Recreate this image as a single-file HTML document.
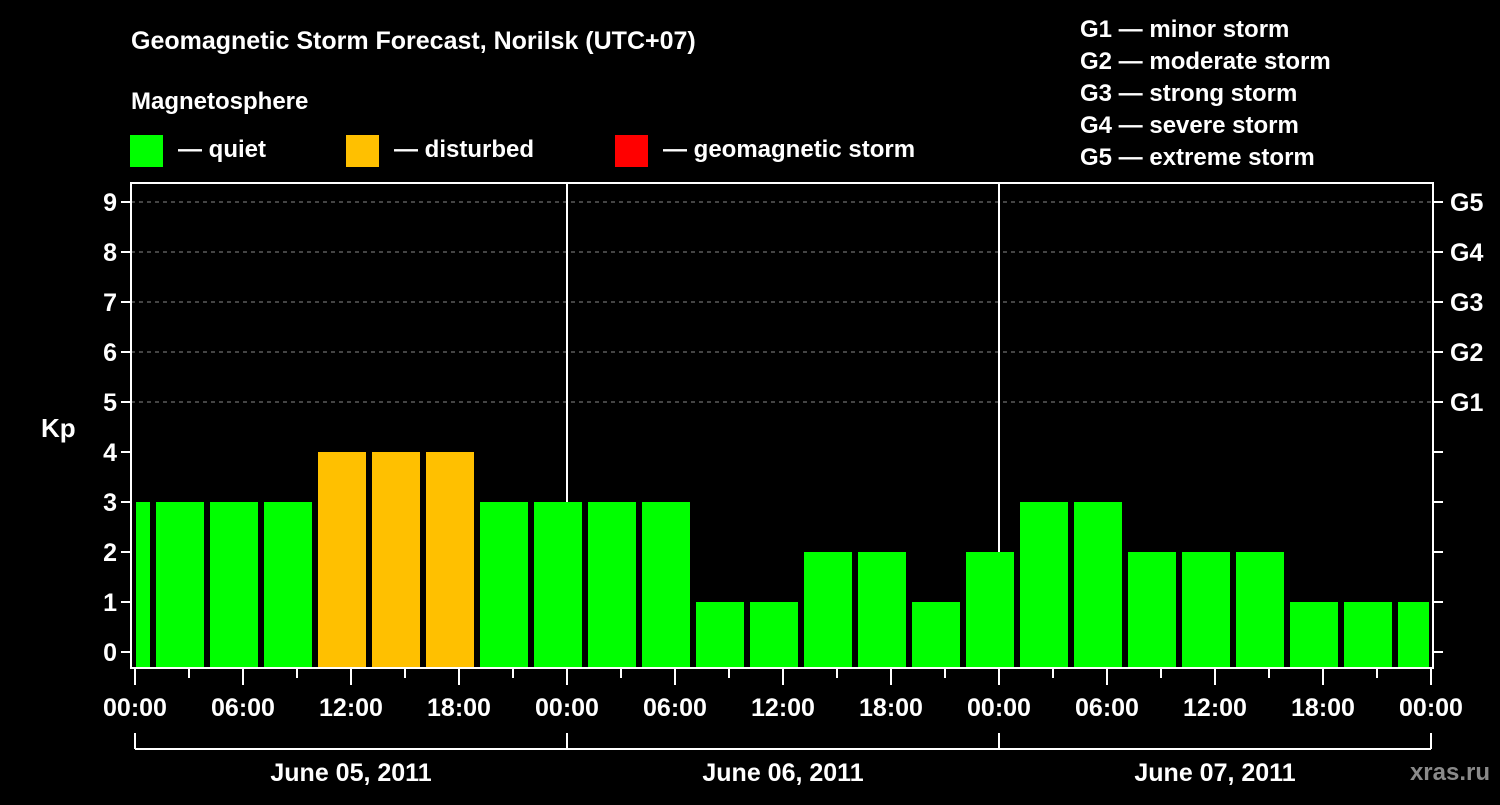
<!DOCTYPE html>
<html><head><meta charset="utf-8"><style>
html,body{margin:0;padding:0;background:#000;}
svg text{font-family:"Liberation Sans",sans-serif;font-weight:bold;fill:#fff;}
</style></head><body>
<svg width="1500" height="800" viewBox="0 0 1500 800">
<rect x="0" y="0" width="1500" height="800" fill="#000"/>
<text x="131" y="49" font-size="25">Geomagnetic Storm Forecast, Norilsk (UTC+07)</text>
<text x="131" y="109" font-size="24">Magnetosphere</text>
<g>
<rect x="130" y="135" width="33" height="32" fill="#00ff00"/>
<text x="178" y="157" font-size="24">— quiet</text>
<rect x="346" y="135" width="33" height="32" fill="#ffc000"/>
<text x="394" y="157" font-size="24">— disturbed</text>
<rect x="615" y="135" width="33" height="32" fill="#ff0000"/>
<text x="663" y="157" font-size="24">— geomagnetic storm</text>
</g>
<g font-size="24">
<text x="1080" y="37">G1 — minor storm</text>
<text x="1080" y="69">G2 — moderate storm</text>
<text x="1080" y="101">G3 — strong storm</text>
<text x="1080" y="133">G4 — severe storm</text>
<text x="1080" y="165">G5 — extreme storm</text>
</g>
<text x="41" y="437" font-size="26">Kp</text>
<text x="1490" y="780" font-size="24" text-anchor="end" fill="#888" style="fill:#8a8a8a">xras.ru</text>
<g id="grid"></g>
<g id="bars"></g>
<g id="axes"></g>
</svg>
<script>
const kpValues=[3,3,3,3,4,4,4,3,3,3,3,1,1,2,2,1,2,3,3,2,2,2,1,1,1];
const startHours=[-2,1,4,7,10,13,16,19,22,25,28,31,34,37,40,43,46,49,52,55,58,61,64,67,70];
const yTicks=[0,1,2,3,4,5,6,7,8,9];
const gLabels=["G1","G2","G3","G4","G5"];
const gLevels=[5,6,7,8,9];
const timeLabels=["00:00","06:00","12:00","18:00","00:00","06:00","12:00","18:00","00:00","06:00","12:00","18:00","00:00"];
const dayLabels=["June 05, 2011","June 06, 2011","June 07, 2011"];

const NS="http://www.w3.org/2000/svg";
const L=131,R=1433,T=183,B=668,X0=135,PXH=18;
const xs=h=>X0+h*PXH;
const ys=v=>652-v*50;
function mk(tag,attrs,parent){const e=document.createElementNS(NS,tag);for(const k in attrs)e.setAttribute(k,attrs[k]);document.getElementById(parent).appendChild(e);return e;}

gLevels.forEach((v,i)=>{
 const l=mk('line',{x1:L,x2:R,y1:ys(v),y2:ys(v),stroke:'#888','stroke-dasharray':'4,4','stroke-width':1},'grid');
 
 
});
// day separators
[1,2].forEach(d=>{
 const l=mk('line',{x1:xs(24*d),x2:xs(24*d),y1:T,y2:B,stroke:'#fff','stroke-width':2},'grid');
 
 
});
kpValues.forEach((v,i)=>{
 let x1=Math.max(xs(startHours[i])+3,X0+1),x2=Math.min(xs(startHours[i]+3)-3,R-4);
 const col=v>=5?'#ff0000':(v>=4?'#ffc000':'#00ff00');
 const r=mk('rect',{x:x1,y:ys(v),width:x2-x1,height:B-ys(v),fill:col},'bars');
 
 
});
const f=mk('rect',{x:L,y:T,width:R-L,height:B-T,fill:'none',stroke:'#fff','stroke-width':2},'axes');


yTicks.forEach(v=>{
 mk('line',{x1:L-10,x2:L,y1:ys(v),y2:ys(v),stroke:'#fff','stroke-width':2},'axes');
 mk('line',{x1:R,x2:R+10,y1:ys(v),y2:ys(v),stroke:'#fff','stroke-width':2},'axes');
 const t=mk('text',{x:117,y:ys(v)+9,'font-size':25,'text-anchor':'end'},'axes');
 t.textContent=v;
 
 
});
gLabels.forEach((g,i)=>{
 const t=mk('text',{x:1450,y:ys(gLevels[i])+9,'font-size':25},'axes');
 t.textContent=g;
 
 
});
for(let h=0;h<=72;h+=3){
 const major=h%6===0;
 mk('line',{x1:xs(h),x2:xs(h),y1:B,y2:major?B+17:B+10,stroke:'#fff','stroke-width':2},'axes');
}
timeLabels.forEach((s,i)=>{
 const t=mk('text',{x:xs(i*6),y:716,'font-size':25,'text-anchor':'middle'},'axes');
 t.textContent=s;
 
 
});
mk('line',{x1:xs(0),x2:xs(72),y1:749,y2:749,stroke:'#fff','stroke-width':2},'axes');
[0,24,48,72].forEach(h=>mk('line',{x1:xs(h),x2:xs(h),y1:733,y2:749,stroke:'#fff','stroke-width':2},'axes'));
dayLabels.forEach((s,i)=>{
 const t=mk('text',{x:xs(i*24+12),y:781,'font-size':25,'text-anchor':'middle'},'axes');
 t.textContent=s;
 
 
});
</script>
</body></html>
